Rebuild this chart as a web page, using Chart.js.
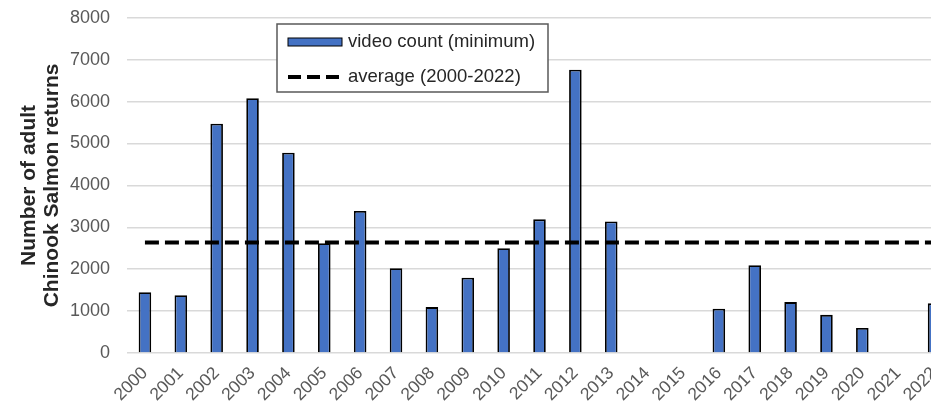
<!DOCTYPE html>
<html>
<head>
<meta charset="utf-8">
<script src="https://cdn.jsdelivr.net/npm/chart.js@4.4.0/dist/chart.umd.min.js"></script>
<style>
  html, body { margin: 0; padding: 0; background: #fff; overflow: hidden; }
  #wrap { width: 960px; height: 421px; position: absolute; top: -10px; left: 0; }
</style>
</head>
<body>
<div id="wrap"><canvas id="salmonChart"></canvas></div>
<script>
// salmon returns chart

const years = ['2000', '2001', '2002', '2003', '2004', '2005', '2006', '2007', '2008', '2009', '2010', '2011',
    '2012', '2013', '2014', '2015', '2016', '2017', '2018', '2019', '2020', '2021', '2022'];
const videoCount = [1450, 1380, 5470, 6080, 4780, 2620, 3390, 2025, 1095, 1795, 2500, 3190,
    6760, 3140, null, null, 1055, 2095, 1215, 910, 595, null, 1185];
const averageValue = 2640;
const yTicks = [0, 1000, 2000, 3000, 4000, 5000, 6000, 7000, 8000];

const legendItems = [
    { label: 'video count (minimum)', kind: 'bar' },
    { label: 'average (2000-2022)', kind: 'dash' }
];

// canvas sits 10px above the page top, so the legend box is offset by that
const boxLegend = {
    id: 'boxLegend',
    afterDraw(chart) {
        const ctx = chart.ctx;
        const x = 277, y = 34, w = 271, h = 68;
        ctx.save();
        ctx.fillStyle = '#fff';
        ctx.fillRect(x, y, w, h);
        ctx.strokeStyle = '#595959';
        ctx.lineWidth = 1.5;
        ctx.strokeRect(x, y, w, h);
        ctx.font = '18.5px "Liberation Sans", Arial, sans-serif';
        ctx.textBaseline = 'middle';
        legendItems.forEach((item, i) => {
            const cy = y + 18 + i * 35;
            if (item.kind === 'bar') {
                ctx.fillStyle = '#4472C4';
                ctx.fillRect(x + 11, cy - 4, 54, 8);
                ctx.strokeStyle = '#000';
                ctx.lineWidth = 1;
                ctx.strokeRect(x + 11, cy - 4, 54, 8);
            } else {
                ctx.strokeStyle = '#000';
                ctx.lineWidth = 4;
                ctx.setLineDash([13, 6]);
                ctx.beginPath();
                ctx.moveTo(x + 11, cy);
                ctx.lineTo(x + 62, cy);
                ctx.stroke();
                ctx.setLineDash([]);
            }
            ctx.fillStyle = '#262626';
            ctx.fillText(item.label, x + 71, cy);
        });
        ctx.restore();
    }
};

new Chart(document.getElementById('salmonChart'), {
    data: {
        labels: years,
        datasets: [{
            type: 'line',
            label: 'average (2000-2022)',
            data: years.map(() => averageValue),
            borderColor: '#000',
            borderWidth: 4,
            borderDash: [14, 6],
            pointRadius: 0,
            order: 0
        }, {
            type: 'bar',
            label: 'video count (minimum)',
            data: videoCount,
            backgroundColor: '#4472C4',
            borderColor: '#000',
            borderWidth: 1.8,
            categoryPercentage: 1,
            barPercentage: 0.35,
            order: 1
        }]
    },
    options: {
        responsive: true,
        maintainAspectRatio: false,
        animation: false,
        layout: { padding: { top: 0, right: 8, bottom: 0, left: 0 } },
        plugins: {
            legend: { display: false },
            tooltip: { enabled: false }
        },
        scales: {
            x: {
                grid: { display: false },
                border: { display: false },
                afterFit(scale) { scale.height = 58; },
                ticks: {
                    color: '#595959',
                    font: { size: 17.5, family: '"Liberation Sans", Arial, sans-serif' },
                    minRotation: 45,
                    maxRotation: 45,
                    autoSkip: false,
                    padding: 2
                }
            },
            y: {
                min: 0,
                max: 8000,
                afterBuildTicks(scale) {
                    scale.ticks = yTicks.map(v => ({ value: v }));
                },
                afterFit(scale) { scale.width = 127; },
                grid: { color: '#d9d9d9', lineWidth: 1.5, drawTicks: false },
                border: { display: false },
                ticks: {
                    color: '#595959',
                    font: { size: 18, family: '"Liberation Sans", Arial, sans-serif' },
                    padding: 17,
                    callback: v => String(v)
                },
                title: {
                    display: true,
                    text: ['Number of adult', 'Chinook Salmon returns'],
                    color: '#262626',
                    font: { size: 21, weight: 'bold', family: '"Liberation Sans", Arial, sans-serif', lineHeight: 1.1 },
                    padding: { top: 18, bottom: 0 }
                }
            }
        }
    },
    plugins: [boxLegend]
});
</script>
</body>
</html>
